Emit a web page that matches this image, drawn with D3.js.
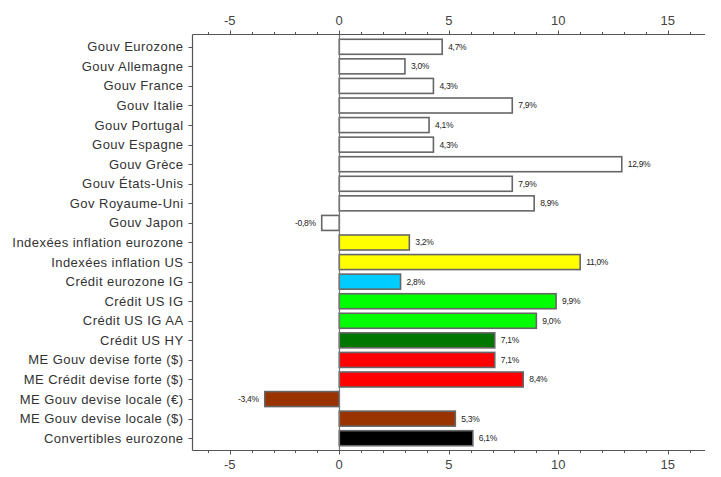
<!DOCTYPE html>
<html><head><meta charset="utf-8">
<script src="https://cdn.jsdelivr.net/npm/d3@7"></script>
<style>body{margin:0;background:#fff;} svg{display:block;}</style>
</head><body>
<svg id="chart" width="721" height="477"></svg>
<script>
const categories = ["Gouv Eurozone","Gouv Allemagne","Gouv France","Gouv Italie","Gouv Portugal","Gouv Espagne","Gouv Grèce","Gouv États-Unis","Gov Royaume-Uni","Gouv Japon","Indexées inflation eurozone","Indexées inflation US","Crédit eurozone IG","Crédit US IG","Crédit US IG AA","Crédit US HY","ME Gouv devise forte ($)","ME Crédit devise forte ($)","ME Gouv devise locale (€)","ME Gouv devise locale ($)","Convertibles eurozone"];
const values = [4.7,3.0,4.3,7.9,4.1,4.3,12.9,7.9,8.9,-0.8,3.2,11.0,2.8,9.9,9.0,7.1,7.1,8.4,-3.4,5.3,6.1];
const colors = ["#ffffff","#ffffff","#ffffff","#ffffff","#ffffff","#ffffff","#ffffff","#ffffff","#ffffff","#ffffff","#ffff00","#ffff00","#00ccff","#00ff00","#00ff00","#007700","#ff0000","#ff0000","#993300","#993300","#000000"];
const majorTicks = [-5,0,5,10,15];
const minorTicks = d3.range(-6,17,1);
const xDomain = [-6.7,16.7];

(function(){
const svg = d3.select("#chart");
const L = 192.5, R = 705, T = 34.5, B = 450.5;
const x = d3.scaleLinear().domain(xDomain).range([L,R]);
const y = d3.scaleBand().domain(categories).range([37,448]).padding(0);
const barH = 15;
const axisColor = "#555";
const font = "'Liberation Sans', Arial, sans-serif";

// bars
svg.append("g").selectAll("rect").data(values).join("rect")
  .attr("x", d => x(Math.min(0,d)))
  .attr("y", (d,i) => y(categories[i]) + y.bandwidth()/2 - barH/2)
  .attr("width", d => Math.abs(x(d)-x(0)))
  .attr("height", barH)
  .attr("fill", (d,i) => colors[i])
  .attr("stroke", "#666")
  .attr("stroke-width", 1.6);

// zero line
svg.append("line").attr("x1", Math.round(x(0))+0.5).attr("x2", Math.round(x(0))+0.5)
  .attr("y1", T).attr("y2", B).attr("stroke", "#777").attr("stroke-width", 1.2);

// value labels
svg.append("g").selectAll("text").data(values).join("text")
  .attr("x", d => d >= 0 ? x(d) + 6 : x(d) - 6)
  .attr("y", (d,i) => y(categories[i]) + y.bandwidth()/2)
  .attr("dy", "0.35em")
  .attr("text-anchor", d => d >= 0 ? "start" : "end")
  .attr("font-family", font)
  .attr("font-size", "8.5px")
  .attr("letter-spacing", "-0.3px")
  .attr("fill", "#222")
  .text(d => d3.format(".1f")(d).replace(".", ",").replace("−", "-") + "%");

function xAxis(gy, dir) {
  const g = svg.append("g");
  g.append("line").attr("x1", L).attr("x2", R).attr("y1", gy).attr("y2", gy)
    .attr("stroke", axisColor).attr("stroke-width", 1.2);
  g.selectAll(".mn").data(minorTicks.filter(t => !majorTicks.includes(t))).join("line")
    .attr("x1", d => Math.round(x(d))+0.5).attr("x2", d => Math.round(x(d))+0.5)
    .attr("y1", gy).attr("y2", gy + dir*2.5).attr("stroke", axisColor);
  g.selectAll(".mj").data(majorTicks).join("line")
    .attr("x1", d => Math.round(x(d))+0.5).attr("x2", d => Math.round(x(d))+0.5)
    .attr("y1", gy).attr("y2", gy + dir*4).attr("stroke", axisColor);
  g.selectAll("text").data(majorTicks).join("text")
    .attr("x", d => x(d)).attr("y", dir < 0 ? gy - 10 : gy + 18)
    .attr("text-anchor", "middle")
    .attr("font-family", font).attr("font-size", "13px").attr("fill", "#444")
    .text(d => d);
}
xAxis(T, -1);
xAxis(B, 1);

// left axis
const ga = svg.append("g");
ga.append("line").attr("x1", L).attr("x2", L).attr("y1", T).attr("y2", B)
  .attr("stroke", axisColor).attr("stroke-width", 1.2);
ga.selectAll("line.t").data(categories).join("line").attr("class","t")
  .attr("x1", L - 4).attr("x2", L)
  .attr("y1", d => Math.round(y(d) + y.bandwidth()/2)+0.5)
  .attr("y2", d => Math.round(y(d) + y.bandwidth()/2)+0.5)
  .attr("stroke", axisColor);
ga.selectAll("text.c").data(categories).join("text").attr("class","c")
  .attr("x", L - 9)
  .attr("y", d => y(d) + y.bandwidth()/2)
  .attr("dy", "0.35em")
  .attr("text-anchor", "end")
  .attr("font-family", font).attr("font-size", "13px").attr("letter-spacing", "0.45px")
  .attr("fill", "#333")
  .text(d => d);
})();
</script>
</body></html>
